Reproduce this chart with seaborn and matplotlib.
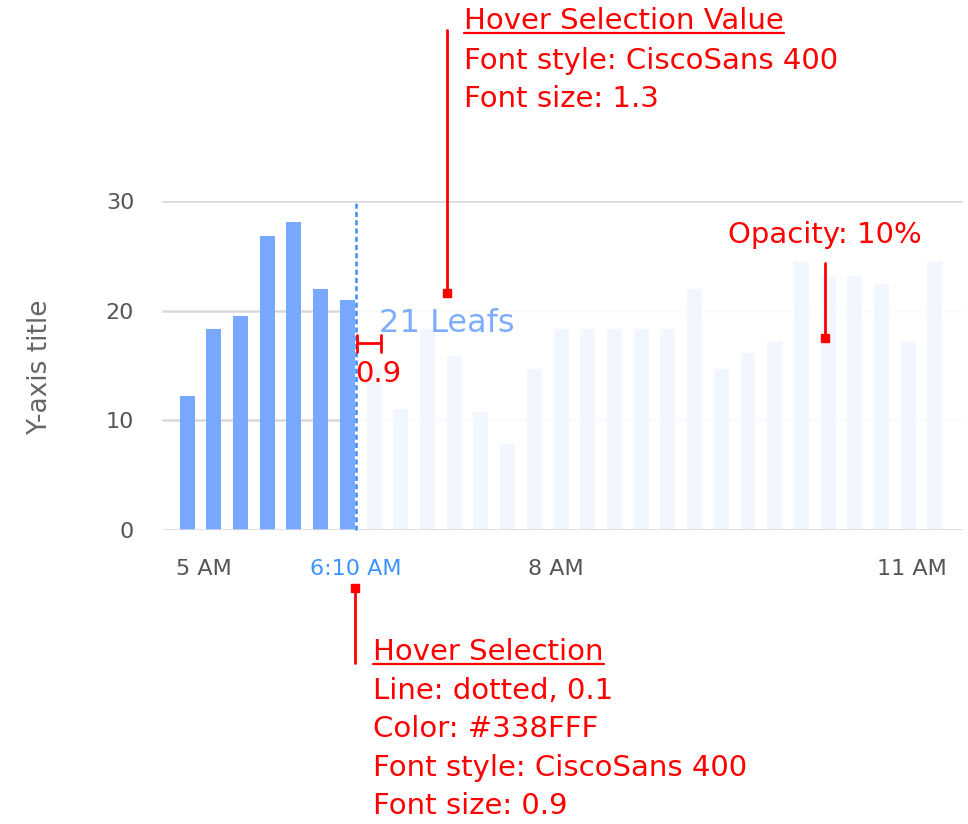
import numpy as np
import pandas as pd
import matplotlib
matplotlib.use("Agg")
import matplotlib.pyplot as plt
from matplotlib.lines import Line2D
from matplotlib.patches import Rectangle
import seaborn as sns

# Leaf counts per time slot
leafs = [12.2, 18.3, 19.5, 26.8, 28.1, 22.0, 21.0,
         14.7, 11.0, 18.3, 15.9, 10.8, 7.8, 14.7,
         18.3, 18.3, 18.3, 18.3, 18.3, 22.0, 14.7,
         16.1, 17.1, 24.4, 23.2, 23.2, 22.4, 17.1, 24.4]
slots = list(range(len(leafs)))

# Time axis labels (positions in slot units)
time_labels = ["5 AM", "8 AM", "11 AM"]
time_positions = [0.62, 13.82, 27.14]

# Hover selection
selected_slot = 6
hover_label = "6:10 AM"
hover_position = 6.32

y_ticks = [0, 10, 20, 30]

W, H = 968, 824
sns.set_theme(style="white")
plt.rcParams["font.family"] = ["DejaVu Sans"]

fig = plt.figure(figsize=(W / 100, H / 100), dpi=100)

def fx(px):
    return px / W

def fy(py):
    return 1 - py / H

ax_left, ax_right, ax_top, ax_bottom = 162, 963, 201, 530
ax = fig.add_axes([fx(ax_left), fy(ax_bottom), (ax_right - ax_left) / W, (ax_bottom - ax_top) / H])

df = pd.DataFrame({"slot": slots, "leafs": leafs})
bar_color = "#78A9FF"
sns.barplot(data=df, x="slot", y="leafs", native_scale=True, width=0.56,
            color=bar_color, saturation=1, ax=ax, zorder=1, linewidth=0)

ax.set_xlim(-0.94, 29.05)
ax.set_ylim(0, 30)

grid_color = "#D9D9D9"
for v in [10, 20]:
    ax.axhline(v, color=grid_color, lw=1.8, zorder=0.5)
for v in [0, 30]:
    ax.axhline(v, color=grid_color, lw=1.8, zorder=4)

# 10% opacity for everything after the hover selection
ax.add_patch(Rectangle((hover_position, 0), 29.05 - hover_position, 29.8,
                       facecolor="white", edgecolor="none", alpha=0.9, zorder=3))

# Hover line
ax.plot([hover_position, hover_position], [0, 30], color="#338FFF", lw=1.8,
        linestyle=(0, (2.0, 1.3)), zorder=5, clip_on=False)

for s in ax.spines.values():
    s.set_visible(False)

ax.set_yticks(y_ticks)
ax.set_yticklabels([str(t) for t in y_ticks])
ax.tick_params(axis="y", length=0, pad=20, labelsize=16, labelcolor="#555555")

xt = time_positions[:1] + [hover_position] + time_positions[1:]
xl = time_labels[:1] + [hover_label] + time_labels[1:]
ax.set_xticks(xt)
ax.set_xticklabels(xl)
ax.tick_params(axis="x", length=0, pad=21, labelsize=16, labelcolor="#555555")
for lbl in ax.get_xticklabels():
    if lbl.get_text() == hover_label:
        lbl.set_color("#3F93FF")
ax.set_xlabel("")
ax.set_ylabel("")

fig.text(fx(40), fy(367), "Y-axis title", rotation=90, ha="center", va="center",
         fontsize=19, color="#666666")

# Hover value label
fig.text(fx(379), fy(332), f"{leafs[selected_slot]:.0f} Leafs",
         fontsize=23, color="#7EADFF", ha="left", va="baseline", zorder=6)

# Spec annotations
red = "#FF0000"
ann_size = 21

def red_line(x0, y0, x1, y1, marker_end=None):
    fig.add_artist(Line2D([fx(x0), fx(x1)], [fy(y0), fy(y1)], color=red, lw=2))
    if marker_end is not None:
        mx, my = marker_end
        fig.add_artist(Line2D([fx(mx)], [fy(my)], marker="s", markersize=6,
                              color=red, lw=0))

underlined = []

def red_text(x, y, s, underline=False):
    t = fig.text(fx(x), fy(y), s, color=red, fontsize=ann_size, ha="left", va="baseline")
    if underline:
        underlined.append((t, y))
    return t

# Top: hover selection value
red_line(447, 30, 447, 293, marker_end=(447, 293))
red_text(464, 29, "Hover Selection Value", underline=True)
red_text(464, 69, "Font style: CiscoSans 400")
red_text(464, 107, "Font size: 1.3")

# Opacity note
red_text(728, 243, "Opacity: 10%")
red_line(825, 263, 825, 338, marker_end=(825, 338))

# Offset dimension
red_line(357, 343, 381, 343)
red_line(357, 335, 357, 352)
red_line(381, 335, 381, 352)
red_text(355, 382, "0.9")

# Bottom: hover selection
red_line(355, 588, 355, 663, marker_end=(355, 588))
bottom_lines = ["Hover Selection", "Line: dotted, 0.1", "Color: #338FFF",
                "Font style: CiscoSans 400", "Font size: 0.9"]
for i, s in enumerate(bottom_lines):
    red_text(373, 660 + 38.5 * i, s, underline=(i == 0))

fig.canvas.draw()
renderer = fig.canvas.get_renderer()
for t, base in underlined:
    bb = t.get_window_extent(renderer)
    fig.add_artist(Line2D([bb.x0 / W, bb.x1 / W], [fy(base + 4), fy(base + 4)],
                          color=red, lw=1.6))

fig.savefig("out.png", dpi=100, facecolor="white")
